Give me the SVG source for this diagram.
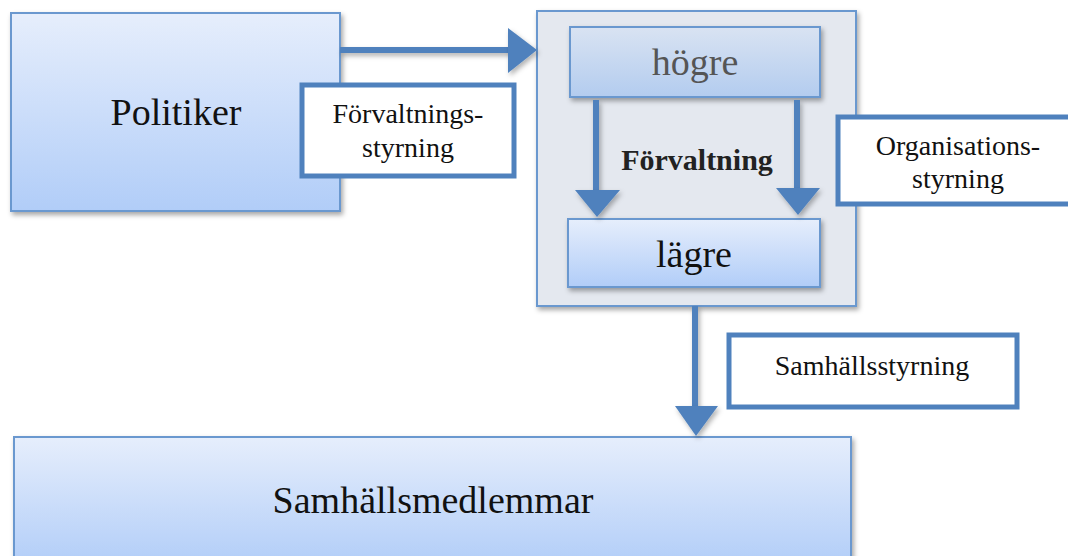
<svg xmlns="http://www.w3.org/2000/svg" width="1068" height="556" viewBox="0 0 1068 556">
<defs>
<linearGradient id="blue" x1="0" y1="0" x2="0" y2="1">
<stop offset="0" stop-color="#e6eefc"/>
<stop offset="1" stop-color="#b1cdf8"/>
</linearGradient>
<linearGradient id="blue2" x1="0" y1="0" x2="0" y2="1">
<stop offset="0" stop-color="#d9e3f2"/>
<stop offset="1" stop-color="#b3ccef"/>
</linearGradient>
<filter id="sh" x="-10%" y="-10%" width="130%" height="130%">
<feDropShadow dx="2" dy="3" stdDeviation="2.5" flood-color="#000" flood-opacity="0.35"/>
</filter>
<filter id="shu" filterUnits="userSpaceOnUse" x="0" y="0" width="1068" height="556">
<feDropShadow dx="2" dy="3" stdDeviation="2.5" flood-color="#000" flood-opacity="0.3"/>
</filter>
</defs>
<style>
.box{fill:url(#blue);stroke:#6a98cf;stroke-width:2;filter:url(#sh)}
.lbl{fill:#fff;stroke:#4f81bd;stroke-width:5}
.t{font-family:"Liberation Serif",serif;fill:#111;text-anchor:middle}
.conn{stroke:#4f81bd;stroke-width:6;fill:none;filter:url(#shu)}
.head{fill:#4f81bd;filter:url(#shu)}
</style>

<g id="politiker">
<rect class="box" x="11" y="13" width="329" height="198"/>
<text class="t" x="176" y="125" font-size="38">Politiker</text>
</g>

<g id="forvaltning-container">
<rect x="537" y="11" width="319" height="295" fill="#e4e8ef" stroke="#6a98cf" stroke-width="2" filter="url(#sh)"/>
<text class="t" x="697" y="170" font-size="30" font-weight="bold" style="fill:#222">Förvaltning</text>
</g>

<g id="hogre">
<rect x="570" y="27" width="250" height="70" fill="url(#blue2)" stroke="#6a98cf" stroke-width="2" filter="url(#sh)"/>
<text class="t" x="695" y="75" font-size="38" style="fill:#555">högre</text>
</g>

<g id="lagre">
<rect class="box" x="568" y="219" width="252" height="68"/>
<text class="t" x="694" y="267" font-size="38">lägre</text>
</g>

<g id="samhallsmedlemmar">
<rect class="box" x="14" y="437" width="837" height="130"/>
<text class="t" x="433" y="513" font-size="38">Samhällsmedlemmar</text>
</g>

<g id="connectors">
<path class="conn" d="M340,50 H512"/>
<polygon class="head" points="508,28 537,50 508,73"/>
<path class="conn" d="M596,100 V192"/>
<polygon class="head" points="575,190 620,190 597,217"/>
<path class="conn" d="M797,100 V190"/>
<polygon class="head" points="776,188 820,188 798,215"/>
<path class="conn" d="M695,306 V408"/>
<polygon class="head" points="675,406 718,406 696,436"/>
</g>

<g id="label-forvaltningsstyrning">
<rect class="lbl" x="302" y="85" width="212" height="91"/>
<text class="t" x="408" y="123" font-size="28">Förvaltnings-</text>
<text class="t" x="408" y="157" font-size="28">styrning</text>
</g>

<g id="label-organisationsstyrning">
<rect class="lbl" x="838" y="117" width="240" height="87"/>
<text class="t" x="958" y="155" font-size="28">Organisations-</text>
<text class="t" x="958" y="188" font-size="28">styrning</text>
</g>

<g id="label-samhallsstyrning">
<rect class="lbl" x="729" y="335" width="288" height="72"/>
<text class="t" x="872" y="375" font-size="28">Samhällsstyrning</text>
</g>
</svg>
